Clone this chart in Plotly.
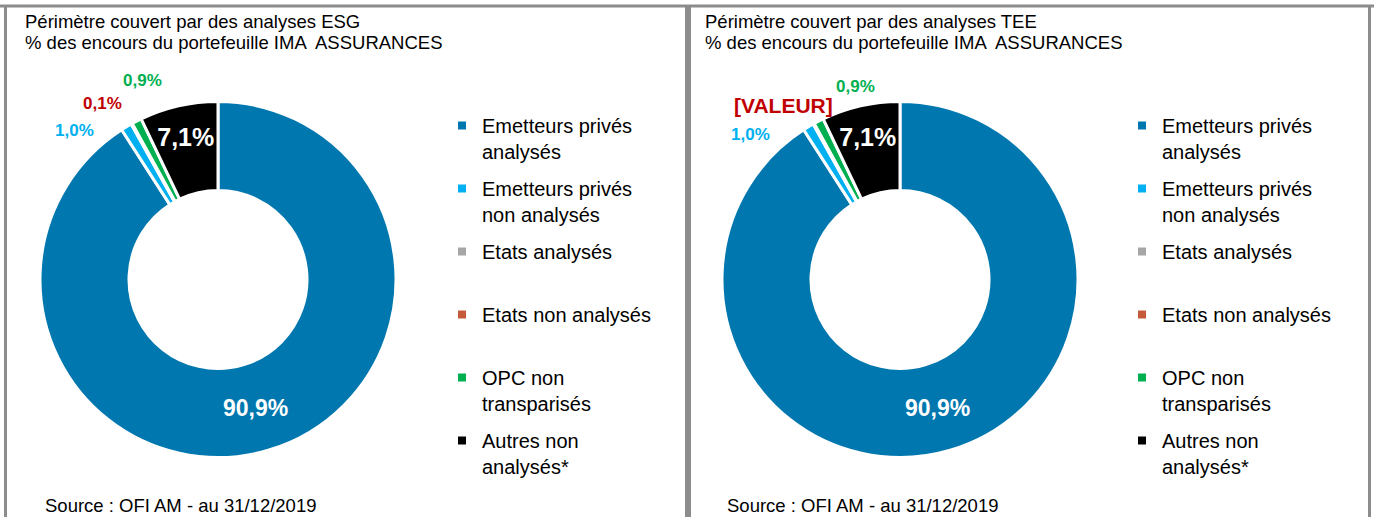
import math
import plotly.graph_objects as go

W, H = 1374, 517

categories = ["Emetteurs privés analysés", "Emetteurs privés non analysés", "Etats analysés",
              "Etats non analysés", "OPC non transparisés", "Autres non analysés*"]
legend_labels = ["Emetteurs privés<br>analysés", "Emetteurs privés<br>non analysés", "Etats analysés<br>&nbsp;",
                 "Etats non analysés<br>&nbsp;", "OPC non<br>transparisés", "Autres non<br>analysés*"]
esg_values = [90.9, 1.0, 0.0, 0.1, 0.9, 7.1]
tee_values = [90.9, 1.0, 0.0, 0.1, 0.9, 7.1]
esg_text = ["90,9%", "1,0%", "", "0,1%", "0,9%", "7,1%"]
tee_text = ["90,9%", "1,0%", "", "[VALEUR]", "0,9%", "7,1%"]
slice_colors = ["#0077AE", "#00B0F0", "#A6A6A6", "#C55A3A", "#00B050", "#000000"]
label_colors = ["#FFFFFF", "#00B0F0", "#A6A6A6", "#C00000", "#00B050", "#FFFFFF"]
title_line1 = ["Périmètre couvert par des analyses ESG", "Périmètre couvert par des analyses TEE"]
title_line2 = "% des encours du portefeuille IMA  ASSURANCES"
source = "Source : OFI AM - au 31/12/2019"

FONT = "Liberation Sans, Arial, sans-serif"

# style: inside label sizes; outside labels handled as annotations (index -> size, shift)
inside_sizes = [23, 16, 16, 16, 16, 25]
inside_pos = ["inside", "none", "none", "none", "none", "inside"]
outside_style = [
    {1: (17, -52, -4), 3: (17, -29, 20), 4: (17, 6, 41)},
    {1: (17, -58, -8), 3: (21, -30, 18), 4: (17, 37, 35)},
]

fig = go.Figure()

centers = [218, 900]
cy = 279.5
R = 178
annotations = []
for i, (vals, txt) in enumerate([(esg_values, esg_text), (tee_values, tee_text)]):
    cx = centers[i]
    fig.add_trace(go.Pie(
        labels=categories, values=vals, sort=False, direction="clockwise", rotation=0,
        hole=0.5, showlegend=False,
        marker=dict(colors=slice_colors, line=dict(color="white", width=3)),
        text=["<b>%s</b>" % t if inside_pos[k] == "inside" else "" for k, t in enumerate(txt)],
        textinfo="text", textposition=inside_pos,
        textfont=dict(family=FONT, color=label_colors, size=inside_sizes),
        insidetextorientation="horizontal",
        domain=dict(x=[(cx - R) / W, (cx + R) / W], y=[1 - (cy + R) / H, 1 - (cy - R) / H]),
        hoverinfo="label+value",
    ))
    total = sum(vals)
    cum = 0.0
    for k, v in enumerate(vals):
        mid = (cum + v / 2) / total * 2 * math.pi
        cum += v
        if k in outside_style[i]:
            size, xs, ys = outside_style[i][k]
            px = cx + R * math.sin(mid)
            py = cy - R * math.cos(mid)
            annotations.append(dict(text="<b>%s</b>" % txt[k], xref="paper", yref="paper",
                                    x=px / W, y=1 - py / H, xshift=xs, yshift=ys,
                                    xanchor="center", yanchor="middle", showarrow=False,
                                    font=dict(family=FONT, size=size, color=label_colors[k])))

# legend entries (one per category, per panel)
for li, leg in enumerate(["legend", "legend2"]):
    for k, lab in enumerate(legend_labels):
        fig.add_trace(go.Scatter(
            x=[None], y=[None], mode="markers", name=lab,
            marker=dict(symbol="square", size=8, color=slice_colors[k]),
            legendgroup="g%d_%d" % (li, k), legend=leg, showlegend=True,
        ))

legend_common = dict(font=dict(family=FONT, size=20, color="#000000"), bgcolor="rgba(0,0,0,0)",
                     yanchor="top", xanchor="left", tracegroupgap=8, valign="top",
                     itemclick=False, itemdoubleclick=False)

for i, x0 in enumerate([23, 703]):
    for line, yc in [(title_line1[i], 21), (title_line2, 43)]:
        annotations.append(dict(text=line, xref="paper", yref="paper", x=x0 / W, y=1 - yc / H,
                                xanchor="left", yanchor="middle", showarrow=False, align="left",
                                font=dict(family=FONT, size=18.5, color="#000000")))
for x0 in [43, 725]:
    annotations.append(dict(text=source, xref="paper", yref="paper", x=x0 / W, y=1 - 505 / H,
                            xanchor="left", yanchor="middle", showarrow=False, align="left",
                            font=dict(family=FONT, size=18.5, color="#000000")))

border = dict(color="#8C8C8C", width=3)
shapes = [
    dict(type="line", xref="paper", yref="paper", x0=0, x1=1, y0=1 - 6 / H, y1=1 - 6 / H, line=border),
    dict(type="line", xref="paper", yref="paper", x0=5.5 / W, x1=5.5 / W, y0=-0.1, y1=1 - 6 / H, line=border),
    dict(type="line", xref="paper", yref="paper", x0=688 / W, x1=688 / W, y0=-0.1, y1=1 - 6 / H,
         line=dict(color="#8C8C8C", width=6)),
    dict(type="line", xref="paper", yref="paper", x0=1369.5 / W, x1=1369.5 / W, y0=-0.1, y1=1 - 6 / H, line=border),
]

fig.update_layout(
    width=W, height=H, margin=dict(l=0, r=0, t=0, b=0),
    paper_bgcolor="white", plot_bgcolor="white",
    xaxis=dict(visible=False), yaxis=dict(visible=False),
    legend=dict(x=442 / W, y=1 - 106 / H, **legend_common),
    legend2=dict(x=1122 / W, y=1 - 106 / H, **legend_common),
    annotations=annotations, shapes=shapes,
    font=dict(family=FONT),
)

fig.write_html("out.html", config={"displayModeBar": False},
               post_script="document.body.style.margin='0px';")
